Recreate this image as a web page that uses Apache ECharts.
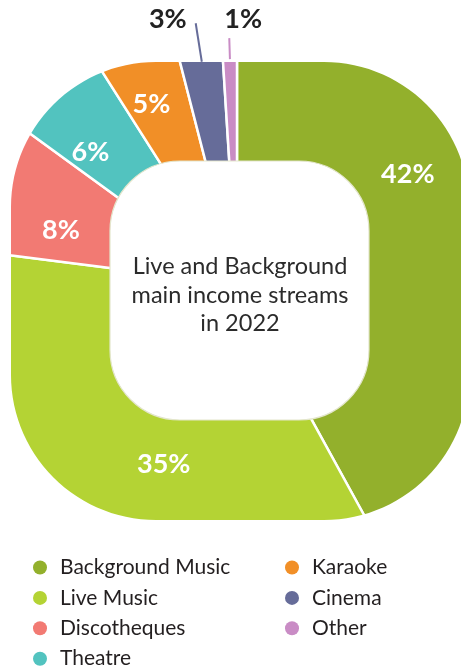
<!DOCTYPE html>
<html><head><meta charset="utf-8">
<script src="https://cdn.jsdelivr.net/npm/echarts@6/dist/echarts.min.js"></script>
<style>html,body{margin:0;padding:0;background:#fff}#c{width:461px;height:671px}</style>
</head><body><div id="c"></div>
<script>
// ---- data ----
const categories = ['Background Music', 'Live Music', 'Discotheques', 'Theatre', 'Karaoke', 'Cinema', 'Other'];
const shares = [42, 35, 8, 6, 5, 3, 1];
const colors = ['#93b02c', '#b4d334', '#f27a73', '#52c3bf', '#f18f27', '#666c99', '#c98cc5'];
const outsideLabelled = ['Cinema', 'Other'];
const centerTitle = 'Live and Background\nmain income streams\nin 2022';
const legendColumn1 = categories.slice(0, 4);
const legendColumn2 = categories.slice(4);

// ---- layout ----
const PX = 237, PY = 284;            // pie (wedge) centre
const FONT = 'Lato, "Noto Sans", sans-serif';
const BOX = { x0: 11, y0: 62, x1: 469, y1: 520, r: 145 };
const labelNudge = {
  'Background Music': [-21, -60], 'Live Music': [38, 17], 'Discotheques': [8, 19],
  'Theatre': [-11, 13], 'Karaoke': [-7, 2]
};
const lineLen = { 'Cinema': 39, 'Other': 21 };

function arcPts(cx, cy, r, a0, a1, n) {
  const pts = [];
  for (let i = 0; i <= n; i++) {
    const a = (a0 + (a1 - a0) * i / n) * Math.PI / 180;
    pts.push([cx + r * Math.cos(a), cy + r * Math.sin(a)]);
  }
  return pts;
}
function maskPolygons(b, ym) {
  const top = [[-10, ym + 1], [-10, -10], [480, -10], [480, ym + 1], [b.x1, ym + 1]]
    .concat(arcPts(b.x1 - b.r, b.y0 + b.r, b.r, 0, -90, 30))
    .concat(arcPts(b.x0 + b.r, b.y0 + b.r, b.r, -90, -180, 30))
    .concat([[b.x0, ym + 1]]);
  const bottom = [[-10, ym - 1], [b.x0, ym - 1]]
    .concat(arcPts(b.x0 + b.r, b.y1 - b.r, b.r, 180, 90, 30))
    .concat(arcPts(b.x1 - b.r, b.y1 - b.r, b.r, 90, 0, 30))
    .concat([[b.x1, ym - 1], [480, ym - 1], [480, 700], [-10, 700]]);
  return [top, bottom];
}
const masks = maskPolygons(BOX, 291);

const chart = echarts.init(document.getElementById('c'), null, { renderer: 'canvas' });
const legendBase = {
  orient: 'vertical', top: 557, height: 140, padding: 0, itemWidth: 14, itemHeight: 14, itemGap: 9.4,
  icon: 'circle', selectedMode: false, z: 20,
  itemStyle: { borderWidth: 0 },
  textStyle: { fontFamily: FONT, fontSize: 21, color: '#231f20', lineHeight: 20, padding: [0, 0, 0, 8] }
};
chart.setOption({
  animation: false,
  legend: [
    Object.assign({}, legendBase, { data: legendColumn1, left: 33 }),
    Object.assign({}, legendBase, { data: legendColumn2, left: 285 })
  ],
  graphic: [
    { type: 'polygon', silent: true, z: 5, shape: { points: masks[0] }, style: { fill: '#ffffff' } },
    { type: 'polygon', silent: true, z: 5, shape: { points: masks[1] }, style: { fill: '#ffffff' } },
    { type: 'rect', silent: true, z: 5, shape: { x: 110, y: 161, width: 259, height: 259, r: 70 },
      style: { fill: '#ffffff', stroke: '#e3e6cc', lineWidth: 1.2 } },
    { type: 'text', silent: true, z: 6,
      style: { text: centerTitle, x: 240, y: 295, textAlign: 'center', textVerticalAlign: 'middle',
        fontFamily: FONT, fontSize: 23.5, lineHeight: 28.5, fill: '#2b2b2b' } }
  ],
  series: [
    {
      type: 'pie', z: 1, silent: true, center: [PX, PY], radius: [118, 275],
      startAngle: 90, clockwise: true, avoidLabelOverlap: false,
      label: { show: false }, labelLine: { show: false },
      emphasis: { disabled: true },
      itemStyle: { borderColor: '#ffffff', borderWidth: 2.5 },
      data: categories.map((n, i) => ({ name: n, value: shares[i], itemStyle: { color: colors[i] } }))
    },
    {
      type: 'pie', z: 10, silent: true, center: [PX, PY], radius: [165, 225],
      startAngle: 90, clockwise: true, avoidLabelOverlap: false,
      emphasis: { disabled: true },
      itemStyle: { color: 'rgba(0,0,0,0)', borderWidth: 0 },
      label: { show: true, position: 'inside', formatter: '{c}%', color: '#ffffff',
        fontFamily: FONT, fontWeight: 'bold', fontSize: 27 },
      labelLine: { show: false },
      data: categories.map((n, i) => {
        const out = outsideLabelled.indexOf(n) >= 0;
        return {
          name: n, value: shares[i],
          label: out ? { position: 'outside', color: '#222222' } : {},
          labelLine: out ? { show: true, length: lineLen[n], length2: 0,
            lineStyle: { color: colors[i], width: 2 } } : { show: false }
        };
      }),
      labelLayout: function (params) {
        const name = categories[params.dataIndex];
        const p = params.labelLinePoints;
        if (name === 'Cinema' && p) {
          return { x: p[1][0] - 9, y: p[1][1] - 4, align: 'right', verticalAlign: 'middle',
            labelLinePoints: [p[0], p[1], p[1]] };
        }
        if (name === 'Other' && p) {
          return { x: p[1][0] - 5, y: p[1][1] - 18.5, align: 'left', verticalAlign: 'middle',
            labelLinePoints: [p[0], p[1], p[1]] };
        }
        const d = labelNudge[name];
        return d ? { dx: d[0], dy: d[1] } : {};
      }
    }
  ]
});
</script>
</body></html>
